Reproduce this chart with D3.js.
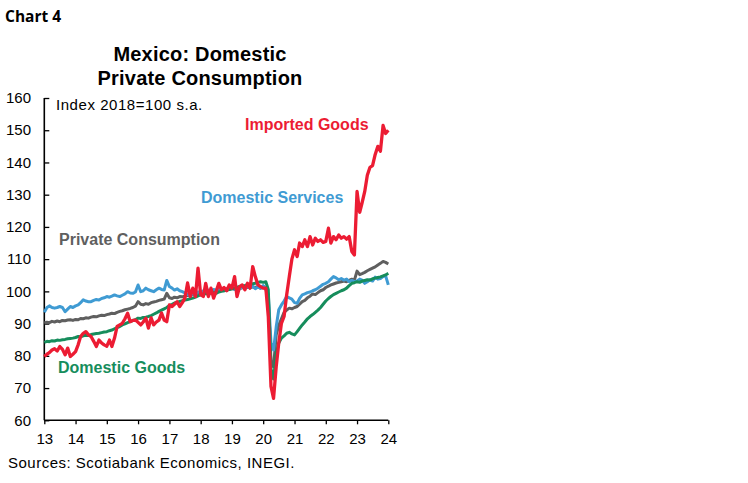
<!DOCTYPE html>
<html>
<head>
<meta charset="utf-8">
<script src="https://cdn.jsdelivr.net/npm/d3@7"></script>
<style>
  body { margin: 0; background: #fff; }
  svg { display: block; font-family: "Liberation Sans", Arial, sans-serif; }
</style>
</head>
<body>
<div id="chart"></div>
<script>
// monthly index values, Jan 2013 .. Jan 2024 (Index 2018=100 s.a.)
const startYear = 2013
const yearTicks = [2013, 2014, 2015, 2016, 2017, 2018, 2019, 2020, 2021, 2022, 2023, 2024]
const yTicks = [60, 70, 80, 90, 100, 110, 120, 130, 140, 150, 160]

const privateConsumption = [
  90.2, 90.4, 90.3, 90.7, 90.5, 90.8, 90.6, 91.0, 90.9, 91.1, 91.2, 91.0,
  91.3, 91.2, 91.6, 91.5, 91.8, 91.7, 92.0, 92.2, 92.1, 92.4, 92.6, 92.5,
  92.8, 93.0, 93.2, 93.1, 93.5, 93.8, 94.0, 94.3, 94.5, 94.7, 95.0, 95.4,
  96.8, 96.0, 95.8, 96.2, 96.0, 96.5, 96.7, 96.9, 97.2, 97.4, 97.6, 99.4,
  98.0, 97.8, 98.2, 98.0, 98.4, 98.3, 98.6, 98.8, 98.7, 99.0, 99.2, 99.5,
  99.3, 99.8, 99.6, 100.0, 100.2, 100.1, 100.4, 100.3, 100.6, 100.5, 100.8, 100.6,
  100.9, 100.7, 101.0, 100.8, 101.2, 101.0, 101.3, 101.1, 101.4, 101.2, 101.5, 101.0,
  101.2, 100.8, 97.5, 78.5, 76.6, 86.5, 89.5, 91.5, 93.5, 94.2, 94.8, 94.6,
  95.0, 95.3, 96.0, 96.8, 97.2, 98.0, 98.5, 99.2, 99.0, 99.6, 100.2, 100.5,
  101.2, 101.6, 102.0, 102.3, 102.6, 102.8, 103.0, 103.2, 103.0, 103.4, 103.8, 103.5,
  106.3, 105.2, 105.5, 105.9, 106.4, 106.8, 107.2, 107.6, 108.2, 108.7, 109.3, 109.0,
  108.5
]

const domesticServices = [
  93.5, 95.0, 95.5, 95.0, 94.8, 95.0, 95.3, 95.0, 93.7, 94.5, 95.3, 95.0,
  95.5, 95.8, 96.5, 97.4, 97.0, 96.8, 96.8, 97.2, 97.5, 97.3, 97.8, 98.0,
  98.4, 98.2, 98.5, 98.9, 98.6, 98.4, 98.8, 99.2, 99.9, 99.5, 99.4, 99.8,
  102.0, 99.9, 100.2, 101.0, 100.5, 100.2, 99.9, 100.5, 101.0, 100.6, 100.4, 103.4,
  101.5, 101.0, 100.4, 100.8, 100.2, 99.9, 99.5, 99.0, 98.8, 99.2, 99.5, 99.8,
  99.8, 100.2, 100.0, 100.4, 100.1, 100.6, 100.3, 100.8, 100.5, 100.2, 100.7, 100.9,
  101.0, 100.6, 101.2, 100.8, 101.3, 101.0, 101.5, 101.1, 101.6, 100.8, 101.4, 101.0,
  101.8, 101.0, 99.0, 84.0, 81.8, 89.0, 94.3, 95.8, 97.0, 98.4, 98.0, 97.6,
  96.5, 96.3, 97.8, 98.9, 99.2, 99.6, 99.8, 100.2, 100.5, 101.0, 101.6, 102.2,
  102.5, 103.0, 103.8, 104.6, 104.2, 103.6, 104.0, 103.5, 103.8, 103.0, 103.4, 103.0,
  103.2, 103.8, 103.5, 102.5, 103.0, 103.6, 103.2, 104.4, 103.8, 104.0, 104.6, 104.8,
  102.0
]

const domesticGoods = [
  84.2, 84.5, 84.4, 84.7, 84.6, 84.9, 84.8, 85.0, 85.1, 85.3, 85.4, 85.5,
  85.7, 86.0, 85.9, 86.2, 86.4, 86.3, 86.6, 86.8, 86.9, 87.0, 87.2, 87.4,
  87.5, 87.8, 88.0, 88.4, 88.8, 89.1, 89.6, 89.9, 90.3, 90.6, 90.9, 91.2,
  91.7, 91.6, 91.9, 92.0, 92.2, 92.5, 92.9, 93.3, 93.8, 94.2, 94.6, 95.0,
  95.6, 96.0, 96.4, 96.6, 96.9, 97.1, 97.3, 97.5, 97.7, 97.9, 98.2, 98.6,
  98.9, 99.1, 99.3, 99.2, 99.5, 99.6, 99.4, 99.8, 100.0, 100.2, 100.4, 100.6,
  100.8, 101.0, 101.3, 101.5, 101.7, 101.8, 102.0, 102.2, 102.4, 102.5, 102.8, 103.0,
  102.8, 103.0, 100.5, 76.0, 72.8, 80.5, 84.0, 85.5, 86.2, 87.0, 87.3, 86.8,
  86.5, 87.5, 88.5, 89.6, 90.5, 91.5, 92.2, 92.8, 93.5, 94.2, 95.0, 96.0,
  97.0, 97.8, 98.4, 99.0, 99.4, 99.8, 100.2, 100.5, 101.0, 101.8, 102.5, 102.7,
  103.0, 102.8, 103.2, 103.4, 103.6, 103.5, 103.9, 104.1, 104.3, 104.5, 104.8, 105.1,
  105.6
]

const importedGoods = [
  79.8, 80.5, 81.0, 81.8, 82.2, 81.5, 82.9, 82.0, 80.3, 82.4, 79.8, 80.5,
  81.3, 83.5, 86.0, 87.0, 87.5, 86.5, 86.0, 84.5, 82.9, 84.9, 84.0, 83.4,
  83.0, 84.9, 82.9, 85.5, 89.1, 89.6, 90.1, 91.5, 93.2, 90.6, 91.0, 91.1,
  90.4, 89.6, 90.5, 91.7, 88.6, 91.8, 89.6, 90.5, 91.1, 93.3, 91.1, 90.6,
  95.8, 95.3, 96.0, 96.8, 95.3, 96.5, 97.9, 102.6, 98.4, 101.0, 98.4, 107.2,
  99.0, 98.4, 102.5, 98.4, 101.0, 97.9, 100.0, 102.5, 100.5, 101.2, 100.2, 102.0,
  101.0, 104.6, 98.4, 101.5, 102.0, 100.5, 102.5, 101.0, 107.7, 104.6, 102.0, 101.5,
  101.0, 101.0, 92.0, 70.5, 66.8, 76.6, 84.0, 90.1, 92.2, 98.9, 104.6, 110.0,
  112.9, 110.8, 115.0, 113.9, 116.0, 113.9, 117.0, 114.4, 116.5, 115.5, 116.0, 115.2,
  115.5, 119.6, 115.0, 117.0, 116.0, 117.5, 116.5, 117.0, 116.2, 117.0, 112.4, 111.3,
  131.0, 124.5, 127.5, 131.0, 136.0, 138.5, 139.0, 142.5, 145.0, 143.5, 151.5, 149.0,
  150.0
]

const series = [
  { name: "Private Consumption", values: privateConsumption, color: "#5f5f5f", lx: 59, ly: 245 },
  { name: "Domestic Services", values: domesticServices, color: "#3f9bd3", lx: 201, ly: 203 },
  { name: "Domestic Goods", values: domesticGoods, color: "#168d5c", lx: 58, ly: 373 },
  { name: "Imported Goods", values: importedGoods, color: "#ec1c33", lx: 245, ly: 130 }
]

const width = 748, height = 483

const svg = d3.select("#chart").append("svg")
  .attr("width", width)
  .attr("height", height)

svg.append("rect").attr("width", width).attr("height", height).attr("fill", "#fff")

const x = d3.scaleTime()
  .domain([new Date(2013, 0, 1), new Date(2024, 0, 1)])
  .range([44.3, 388.3])

const y = d3.scaleLinear()
  .domain([60, 160])
  .range([420.3, 98])

const month = i => new Date(startYear, i, 1)

// headers
svg.append("text")
  .attr("x", 5).attr("y", 22)
  .style("font-family", "'Open Sans', sans-serif")
  .style("font-weight", 700)
  .style("font-size", "15.5px")
  .text("Chart 4")

const title = svg.append("text")
  .attr("text-anchor", "middle")
  .style("font-weight", 700)
  .style("font-size", "20px")
  .style("letter-spacing", "0.2px")
title.append("tspan").attr("x", 200).attr("y", 61).text("Mexico: Domestic")
title.append("tspan").attr("x", 200).attr("y", 85).text("Private Consumption")

// axes
const yAxis = svg.append("g")
  .attr("transform", `translate(${x.range()[0]},0)`)
  .call(d3.axisRight(y).tickValues(yTicks).tickSize(5).tickFormat(""))
yAxis.select(".domain").attr("stroke-width", 1.6).attr("d", `M0,${y(60)}V${y(160)}`)
yAxis.selectAll(".tick line").attr("stroke-width", 1.3)

svg.append("g").selectAll("text")
  .data(yTicks)
  .join("text")
    .attr("x", 31)
    .attr("y", d => y(d))
    .attr("dy", "0.35em")
    .attr("text-anchor", "end")
    .style("font-size", "15px")
    .text(d => d)

const xAxis = svg.append("g")
  .attr("transform", `translate(0,${y(60)})`)
  .call(d3.axisBottom(x)
    .tickValues(yearTicks.map(yr => new Date(yr, 0, 1)))
    .tickSize(4)
    .tickFormat(d => d3.timeFormat("%y")(d)))
xAxis.select(".domain").attr("stroke-width", 1.6).attr("d", `M${x.range()[0]},0H${x.range()[1]}`)
xAxis.selectAll(".tick line").attr("stroke-width", 1.3)
xAxis.selectAll(".tick text")
  .attr("y", 13)
  .style("font-size", "15px")
  .style("font-family", "'Liberation Sans', Arial, sans-serif")

svg.append("text")
  .attr("x", 56).attr("y", 110)
  .style("font-size", "15px")
  .style("letter-spacing", "0.55px")
  .text("Index 2018=100 s.a.")

// lines
const line = d3.line()
  .x((d, i) => x(month(i)))
  .y(d => y(d))

svg.append("g")
  .selectAll("path")
  .data(series)
  .join("path")
    .attr("fill", "none")
    .attr("stroke", d => d.color)
    .attr("stroke-width", d => d.name === "Imported Goods" ? 3.3 : 3)
    .attr("stroke-linejoin", "round")
    .attr("d", d => line(d.values))

svg.append("g")
  .selectAll("text")
  .data(series)
  .join("text")
    .attr("x", d => d.lx)
    .attr("y", d => d.ly)
    .attr("fill", d => d.color)
    .style("font-weight", 700)
    .style("font-size", "16px")
    .text(d => d.name)

svg.append("text")
  .attr("x", 8).attr("y", 468)
  .style("font-size", "15px")
  .style("letter-spacing", "0.5px")
  .text("Sources:  Scotiabank Economics, INEGI.")
</script>
</body>
</html>
